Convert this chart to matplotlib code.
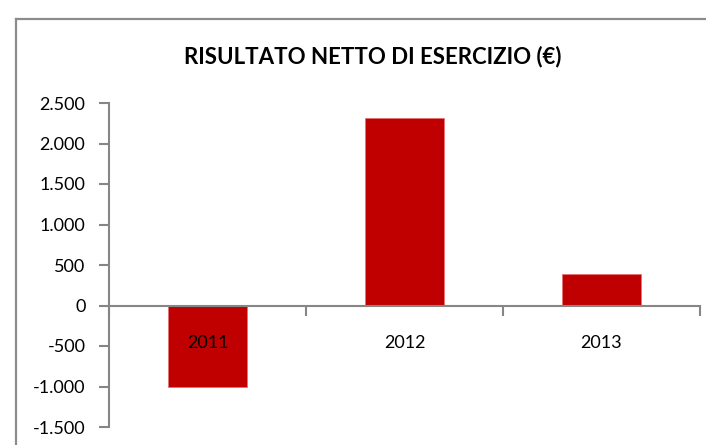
import matplotlib
matplotlib.use("Agg")
import matplotlib.pyplot as plt
from matplotlib.ticker import FuncFormatter, FixedLocator
from matplotlib.lines import Line2D

categories = ["2011", "2012", "2013"]
values = [-1000, 2310, 385]
title = "RISULTATO NETTO DI ESERCIZIO (€)"
yticks = [-1500, -1000, -500, 0, 500, 1000, 1500, 2000, 2500]

plt.rcParams['font.family'] = ['Lato', 'DejaVu Sans']

W, H = 706, 445
fig = plt.figure(figsize=(W / 100, H / 100), dpi=100)
fig.patch.set_facecolor('white')

# outer chart frame
frame_col = '#8c8c8c'
fig.add_artist(Line2D([16 / W, 16 / W], [0, 1 - 19 / H], transform=fig.transFigure,
                      color=frame_col, lw=1.6))
fig.add_artist(Line2D([16 / W, 1], [1 - 19 / H, 1 - 19 / H], transform=fig.transFigure,
                      color=frame_col, lw=1.6))

ax = fig.add_axes([109 / W, 18 / H, 591 / W, 324 / H])
x = list(range(len(categories)))
ax.bar(x, values, width=0.4, color='#C00000', edgecolor='#E57373', linewidth=0.6, zorder=1)

ax.set_xlim(-0.5, len(categories) - 0.5)
ax.set_ylim(yticks[0], yticks[-1])

axis_col = '#868686'
for s in ['top', 'right']:
    ax.spines[s].set_visible(False)
ax.spines['left'].set_color(axis_col)
ax.spines['left'].set_linewidth(1.5)
ax.spines['bottom'].set_color(axis_col)
ax.spines['bottom'].set_linewidth(1.5)
ax.spines['bottom'].set_position(('data', 0))

ax.yaxis.set_major_locator(FixedLocator(yticks))
ax.yaxis.set_major_formatter(FuncFormatter(lambda v, p: f"{int(v):,}".replace(",", ".")))
ax.tick_params(axis='y', direction='out', length=7, width=1.5, color=axis_col,
               labelsize=13, pad=10, labelcolor='black')

ax.set_xticks(x)
ax.set_xticklabels(categories)
ax.set_xticks([-0.5, 0.5, 1.5, 2.5], minor=True)
ax.tick_params(axis='x', which='major', length=0, pad=21, labelsize=13, labelcolor='black')
ax.tick_params(axis='x', which='minor', direction='out', length=7, width=1.5, color=axis_col)

fig.text(373 / W, 1 - 57 / H, title, ha='center', va='center',
         fontsize=16, fontweight='bold', color='black')

fig.savefig('out.png', dpi=100)
